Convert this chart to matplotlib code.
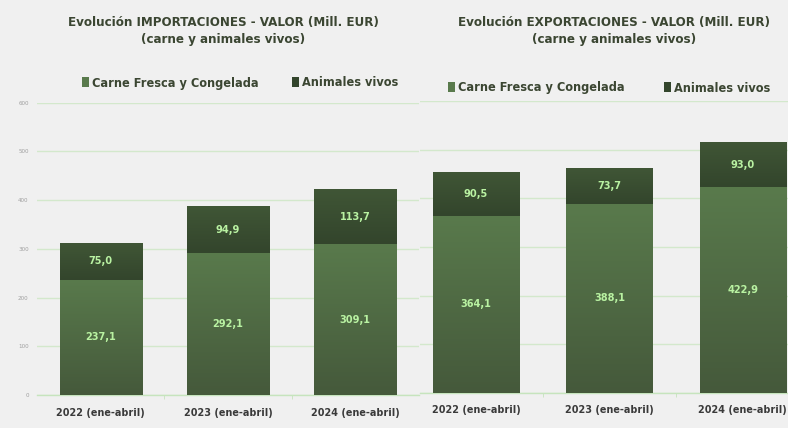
import numpy as np
import matplotlib
matplotlib.use("Agg")
import matplotlib.pyplot as plt
from matplotlib import font_manager as fm
from matplotlib.patches import Patch
from matplotlib.colors import LinearSegmentedColormap

categories = ["2022 (ene-abril)", "2023 (ene-abril)", "2024 (ene-abril)"]
imp_carne = [237.1, 292.1, 309.1]
imp_vivos = [75.0, 94.9, 113.7]
exp_carne = [364.1, 388.1, 422.9]
exp_vivos = [90.5, 73.7, 93.0]
series_names = ["Carne Fresca y Congelada", "Animales vivos"]
yticks = [0, 100, 200, 300, 400, 500, 600]
title_imp = "Evolución IMPORTACIONES - VALOR (Mill. EUR)\n(carne y animales vivos)"
title_exp = "Evolución EXPORTACIONES - VALOR (Mill. EUR)\n(carne y animales vivos)"

# ---- font choice: prefer a condensed face ----
ttf = fm.fontManager.ttflist
names = {f.name for f in ttf}
stretch = "normal"
if "Liberation Sans Narrow" in names:
    fam = "Liberation Sans Narrow"
elif any(f.name == "DejaVu Sans" and "Condensed" in f.fname for f in ttf):
    fam = "DejaVu Sans"
    stretch = "condensed"
else:
    fam = "Liberation Sans"
plt.rcParams['font.family'] = [fam, 'DejaVu Sans']
plt.rcParams['font.stretch'] = stretch

BG = "#f0f0f0"
GRID = "#d3e8cc"
LOW_TOP, LOW_BOT = "#597a4c", "#45593b"
UP_TOP, UP_BOT = "#405636", "#33452c"
LABEL = "#b9f2a2"
TXT = "#3b4632"

W, H = 788, 428
fig = plt.figure(figsize=(W / 100, H / 100), dpi=100, facecolor=BG)
renderer = fig.canvas.get_renderer()

SCALE = 1.2  # the reference face is condensed; trade a bit of width for height

def fit_size(s, target_px, weight="bold"):
    t = fig.text(0, 0, s, fontsize=10, fontweight=weight)
    w = t.get_window_extent(renderer).width
    t.remove()
    return 10 * target_px * SCALE / w

title_fs = fit_size("Evolución IMPORTACIONES - VALOR (Mill. EUR)", 258)
leg_fs = fit_size("Carne Fresca y Congelada", 137)
tick_fs = fit_size("2022 (ene-abril)", 73)
lab_fs = fit_size("237,1", 26)

def grad_fill(ax, bars, ctop, cbot):
    cmap = LinearSegmentedColormap.from_list("g", [cbot, ctop])
    grad = np.linspace(0, 1, 256).reshape(-1, 1)
    for b in bars:
        x0, y0 = b.get_x(), b.get_y()
        w, h = b.get_width(), b.get_height()
        im = ax.imshow(grad, cmap=cmap, origin="lower", aspect="auto",
                       extent=(x0, x0 + w, y0, y0 + h), zorder=3)
        im.set_clip_path(b)

def draw(ax, carne, vivos, show_y, xlim):
    x = np.arange(len(categories))
    b1 = ax.bar(x, carne, width=0.645, color=LOW_BOT, edgecolor="#a9b8a2",
                linewidth=0.6, zorder=2)
    b2 = ax.bar(x, vivos, bottom=carne, width=0.645, color=UP_BOT,
                edgecolor="#a9b8a2", linewidth=0.6, zorder=2)
    grad_fill(ax, b1, LOW_TOP, LOW_BOT)
    grad_fill(ax, b2, UP_TOP, UP_BOT)
    for i in range(len(x)):
        ax.text(x[i], carne[i] / 2, f"{carne[i]:.1f}".replace(".", ","),
                ha="center", va="center", color=LABEL, fontsize=lab_fs,
                fontweight="bold", zorder=5)
        ax.text(x[i], carne[i] + vivos[i] / 2, f"{vivos[i]:.1f}".replace(".", ","),
                ha="center", va="center", color=LABEL, fontsize=lab_fs,
                fontweight="bold", zorder=5)
    ax.set_facecolor("none")
    ax.set_ylim(0, 600)
    ax.set_xlim(*xlim)
    ax.set_yticks(yticks)
    ax.yaxis.grid(True, color=GRID, linewidth=1.0, zorder=0)
    ax.set_axisbelow(True)
    for s in ["top", "right", "left"]:
        ax.spines[s].set_visible(False)
    ax.spines["bottom"].set_color("#c6e4bd")
    ax.spines["bottom"].set_linewidth(1.0)
    ax.set_xticks(x)
    ax.set_xticklabels(categories, fontsize=tick_fs, fontweight="bold", color="#3a3a3a")
    ax.tick_params(axis="x", length=0, pad=9)
    ax.set_xticks([0.5, 1.5], minor=True)
    ax.tick_params(axis="x", which="minor", length=3, color="#c6e4bd")
    if show_y:
        ax.tick_params(axis="y", length=0, labelsize=4.5, labelcolor="#a0a0a0", pad=6)
    else:
        ax.tick_params(axis="y", length=0, labelleft=False)

ax1 = fig.add_axes([0.047, 0.077, 0.4847, 0.683])
draw(ax1, imp_carne, imp_vivos, True, (-0.5, 2.5))
ax2 = fig.add_axes([0.533, 0.082, 0.4942, 0.682])
draw(ax2, exp_carne, exp_vivos, False, (-0.42, 2.5))

for cx, s in [(223, title_imp), (614, title_exp)]:
    fig.text(cx / W, 1 - 31 / H, s, ha="center", va="center", fontsize=title_fs,
             fontweight="bold", color=TXT, linespacing=1.4)

handles = [Patch(facecolor=LOW_TOP, edgecolor="none"), Patch(facecolor=UP_BOT, edgecolor="none")]
legend_pos = [(82, 83, 0), (292, 83, 1), (448, 88, 0), (664, 88, 1)]
for px, py, k in legend_pos:
    fig.legend([handles[k]], [series_names[k]], loc="center left",
               bbox_to_anchor=(px / W, 1 - py / H), frameon=False,
               borderpad=0, borderaxespad=0, handlelength=0.55, handleheight=0.75,
               handletextpad=0.25, prop={"size": leg_fs, "weight": "bold"},
               labelcolor=TXT)

fig.savefig("out.png", dpi=100, facecolor=BG)
